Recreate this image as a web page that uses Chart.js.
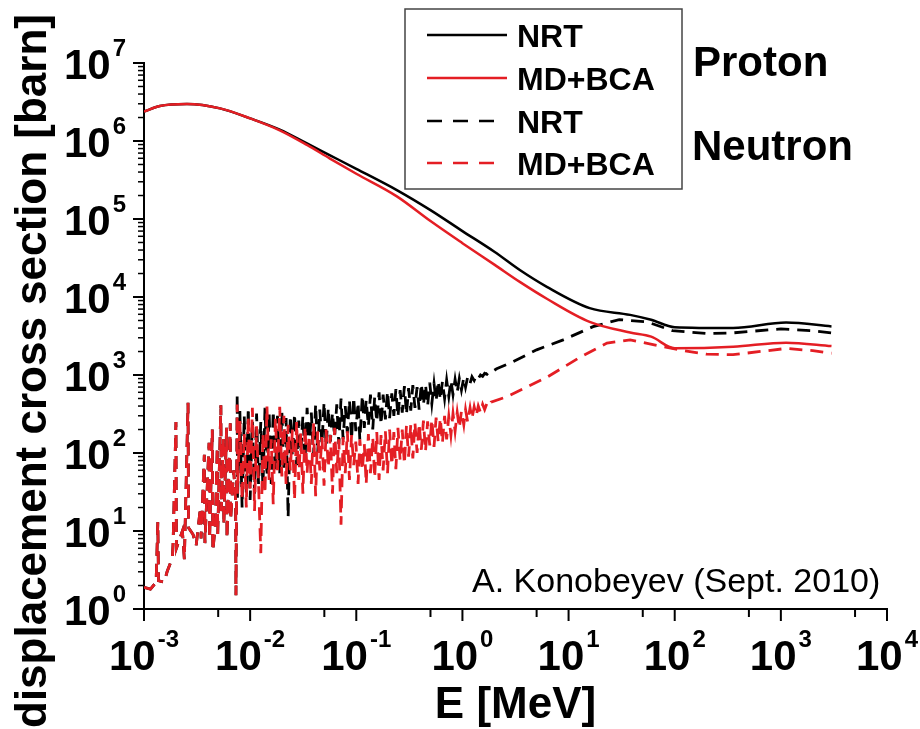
<!DOCTYPE html>
<html>
<head>
<meta charset="utf-8">
<script src="https://cdn.jsdelivr.net/npm/chart.js@4.4.1/dist/chart.umd.min.js"></script>
<style>
  body { margin: 0; background: #fff; }
  #wrap { width: 920px; height: 729px; position: relative; }
</style>
</head>
<body>
<div id="wrap"><canvas id="myChart"></canvas></div>
<script>
// ---- data ----
const energyProton = [1e-3, 1.41e-3, 2.54e-3, 5.2e-3, 1e-2, 1.9e-2, 3.43e-2, 5.6e-2, 0.1, 0.241, 0.5, 1.0, 2.0, 3.5, 6.24, 15.8, 38, 60, 100, 355, 1120, 3000];
const protonNRT   = [2.38e6, 2.81e6, 2.98e6, 2.62e6, 1.95e6, 1.4e6, 9.3e5, 6.6e5, 4.4e5, 2.35e5, 1.3e5, 7.0e4, 3.8e4, 2.2e4, 1.35e4, 7.2e3, 5.9e3, 5.1e3, 4.1e3, 4.0e3, 4.7e3, 4.2e3];
const protonMDBCA = [2.38e6, 2.81e6, 2.98e6, 2.62e6, 1.95e6, 1.37e6, 8.9e5, 6.0e5, 3.8e5, 1.95e5, 9.4e4, 4.9e4, 2.6e4, 1.55e4, 9.5e3, 4.8e3, 3.5e3, 3.1e3, 2.2e3, 2.3e3, 2.6e3, 2.35e3];

// neutron, sparse resonances below 7.5 keV: [E (MeV), sigma (barn)] (both evaluations coincide here)
const neutronLow = [
  [1.00e-3, 1.9], [1.15e-3, 1.8], [1.30e-3, 2.2], [1.35e-3, 13], [1.37e-3, 2.3],
  [1.55e-3, 2.2], [1.65e-3, 3.0], [1.85e-3, 4.5], [1.88e-3, 7], [2.00e-3, 250], [2.02e-3, 6],
  [2.30e-3, 10], [2.40e-3, 4.3], [2.60e-3, 440], [2.63e-3, 11], [2.90e-3, 9], [3.10e-3, 6.5],
  [3.40e-3, 20], [3.45e-3, 8], [3.70e-3, 95], [3.75e-3, 7], [4.10e-3, 135], [4.15e-3, 8],
  [4.40e-3, 200], [4.45e-3, 5.5], [4.70e-3, 12], [4.90e-3, 120], [4.95e-3, 9], [5.30e-3, 410],
  [5.35e-3, 18], [5.60e-3, 160], [5.65e-3, 12], [6.00e-3, 210], [6.05e-3, 8], [6.50e-3, 240],
  [6.55e-3, 14], [7.00e-3, 60], [7.30e-3, 25], [7.35e-3, 1.5]
];
const peakNRT = [[7.55e-3, 560], [7.60e-3, 25]];
const peakMDBCA = [[7.55e-3, 420], [7.60e-3, 30]];

// neutron, dense resonance region 8 keV - 2 MeV
const energyNoise = [
  0.0080, 0.0084, 0.0088, 0.0092, 0.0096, 0.0100, 0.0105, 0.0110, 0.0115, 0.0120,
  0.0126, 0.0132, 0.0138, 0.0144, 0.0151, 0.0158, 0.0165, 0.0173, 0.0181, 0.0190,
  0.0199, 0.0208, 0.0218, 0.0228, 0.0239, 0.0250, 0.0262, 0.0274, 0.0287, 0.0300,
  0.0314, 0.0329, 0.0344, 0.0360, 0.0377, 0.0395, 0.0414, 0.0433, 0.0453, 0.0475,
  0.0497, 0.0520, 0.0545, 0.0570, 0.0597, 0.0625, 0.0655, 0.0685, 0.0718, 0.0751,
  0.0787, 0.0824, 0.0862, 0.0903, 0.0945, 0.0990, 0.104, 0.108, 0.114, 0.119,
  0.124, 0.130, 0.136, 0.143, 0.149, 0.156, 0.164, 0.171, 0.179, 0.188,
  0.197, 0.206, 0.216, 0.226, 0.236, 0.247, 0.259, 0.271, 0.284, 0.297,
  0.311, 0.326, 0.341, 0.357, 0.374, 0.391, 0.410, 0.429, 0.449, 0.470,
  0.492, 0.515, 0.540, 0.565, 0.591, 0.619, 0.648, 0.679, 0.710, 0.744,
  0.779, 0.815, 0.853, 0.893, 0.935, 0.979, 1.03, 1.07, 1.12, 1.18,
  1.23, 1.29, 1.35, 1.41, 1.48, 1.55, 1.62, 1.70, 1.78, 1.86
];
const noiseNRT = [
  350, 20, 300, 30, 380, 25, 260, 30, 320, 40,
  250, 35, 380, 50, 330, 40, 350, 60, 300, 55,
  340, 60, 280, 15, 300, 90, 320, 70, 260, 100,
  300, 80, 380, 110, 330, 90, 420, 100, 360, 130,
  450, 120, 380, 140, 330, 160, 420, 130, 500, 150,
  400, 180, 480, 150, 520, 190, 450, 147, 550, 210,
  480, 220, 560, 200, 520, 250, 600, 230, 560, 270,
  620, 280, 580, 300, 660, 290, 640, 330, 720, 310,
  680, 350, 740, 380, 700, 360, 780, 410, 760, 400,
  800, 430, 780, 460, 840, 480, 820, 500, 860, 530,
  850, 560, 880, 600, 900, 640, 920, 700, 940, 780,
  950, 850, 980, 900, 1000, 960, 1050, 1020, 1100, 1080
];
const noiseMDBCA = [
  260, 25, 180, 20, 300, 35, 380, 18, 220, 40,
  5.2, 180, 30, 400, 45, 150, 22, 280, 60, 390,
  50, 300, 40, 230, 60, 200, 25, 250, 45, 180,
  30, 220, 55, 170, 40, 240, 28, 190, 60, 160,
  38, 200, 65, 170, 30, 210, 55, 150, 12, 160,
  55, 190, 45, 170, 70, 140, 40, 150, 60, 130,
  40, 175, 55, 160, 48, 185, 45, 170, 60, 190,
  55, 200, 70, 185, 62, 210, 80, 200, 72, 225,
  90, 230, 85, 245, 100, 240, 110, 260, 105, 255,
  125, 270, 120, 285, 140, 280, 135, 300, 150, 295,
  170, 320, 190, 330, 210, 345, 230, 360, 250, 380,
  275, 390, 300, 400, 330, 420, 360, 430, 400, 450
];

// neutron, smooth part above 2 MeV
const tailNRT = [[2.1, 1200], [3.0, 1480], [5.0, 2100], [8.9, 2820], [17, 4170], [30, 5130],
  [55, 4790], [95, 3700], [200, 3400], [355, 3470], [1000, 3900], [2000, 3700], [3000, 3470]];
const tailMDBCA = [[2.6, 525], [6.2, 930], [12.9, 1700], [23, 2570], [38, 2820], [68, 2400], [112, 2090],
  [200, 1850], [355, 1820], [1120, 2190], [2000, 2050], [3000, 1900]];

const xTickPowers = [-3, -2, -1, 0, 1, 2, 3, 4];
const yTickPowers = [0, 1, 2, 3, 4, 5, 6, 7];

const RED = '#e41e24';
const FONT = '"Liberation Sans", Arial, sans-serif';

const toPoints = (xs, ys) => xs.map((e, i) => ({ x: e, y: ys[i] }));
const pairPoints = (arr) => arr.map(p => ({ x: p[0], y: p[1] }));
const neutronSeries = (peak, noise, tail) =>
  pairPoints(neutronLow).concat(pairPoints(peak), toPoints(energyNoise, noise), pairPoints(tail));

// draws "10" with a superscript exponent
function drawPower(ctx, p, px, baseY, align) {
  ctx.font = 'bold 42px ' + FONT;
  const w10 = ctx.measureText('10').width;
  ctx.font = 'bold 24px ' + FONT;
  const exp = String(p);
  const wExp = ctx.measureText(exp).width;
  const total = w10 + 2 + wExp;
  const start = align === 'right' ? px - total : px - total / 2;
  ctx.textAlign = 'left';
  ctx.textBaseline = 'alphabetic';
  ctx.font = 'bold 42px ' + FONT;
  ctx.fillText('10', start, baseY);
  ctx.font = 'bold 24px ' + FONT;
  ctx.fillText(exp, start + w10 + 2, baseY - 23);
}

const decorations = {
  id: 'decorations',
  afterDraw(chart) {
    const { ctx, chartArea, scales: { x, y } } = chart;
    ctx.save();
    ctx.strokeStyle = '#000';
    ctx.fillStyle = '#000';
    ctx.lineWidth = 2;

    // y ticks
    yTickPowers.forEach((p, i) => {
      const v = Math.pow(10, p);
      const py = y.getPixelForValue(v);
      ctx.beginPath(); ctx.moveTo(chartArea.left - 11, py); ctx.lineTo(chartArea.left, py); ctx.stroke();
      if (i < yTickPowers.length - 1) {
        for (let m = 2; m <= 9; m++) {
          const my = y.getPixelForValue(m * v);
          ctx.lineWidth = 1.5;
          ctx.beginPath(); ctx.moveTo(chartArea.left - 6, my); ctx.lineTo(chartArea.left, my); ctx.stroke();
          ctx.lineWidth = 2;
        }
      }
      drawPower(ctx, p, 126, py + 16, 'right');
    });

    // x ticks
    xTickPowers.forEach((p, i) => {
      const v = Math.pow(10, p);
      const px = x.getPixelForValue(v);
      ctx.beginPath(); ctx.moveTo(px, chartArea.bottom); ctx.lineTo(px, chartArea.bottom + 12); ctx.stroke();
      if (i < xTickPowers.length - 1) {
        const mx = x.getPixelForValue(5 * v);
        ctx.beginPath(); ctx.moveTo(mx, chartArea.bottom); ctx.lineTo(mx, chartArea.bottom + 8); ctx.stroke();
      }
      drawPower(ctx, p, px, chartArea.bottom + 61, 'center');
    });

    // axis titles
    ctx.font = 'bold 44px ' + FONT;
    ctx.textAlign = 'center';
    ctx.textBaseline = 'alphabetic';
    ctx.fillText('E [MeV]', (chartArea.left + chartArea.right) / 2, 718);
    ctx.save();
    ctx.translate(46, 371);
    ctx.rotate(-Math.PI / 2);
    ctx.fillText('displacement cross section [barn]', 0, 0);
    ctx.restore();

    // legend box
    ctx.lineWidth = 1.5;
    ctx.strokeStyle = '#444';
    ctx.strokeRect(405, 9, 277, 180);
    const rows = [35, 78, 121, 163];
    const items = [chart.data.datasets[2], chart.data.datasets[3], chart.data.datasets[0], chart.data.datasets[1]];
    items.forEach((ds, i) => {
      ctx.strokeStyle = ds.borderColor;
      ctx.lineWidth = 2.5;
      ctx.setLineDash(ds.borderDash ? [15, 11] : []);
      ctx.beginPath();
      ctx.moveTo(427, rows[i]);
      ctx.lineTo(ds.borderDash ? 498 : 507, rows[i]);
      ctx.stroke();
      ctx.setLineDash([]);
      ctx.fillStyle = '#000';
      ctx.font = 'bold 32px ' + FONT;
      ctx.textAlign = 'left';
      ctx.fillText(ds.label, 517, rows[i] + 12);
    });

    ctx.font = 'bold 42px ' + FONT;
    ctx.fillText('Proton', 693, 76);
    ctx.fillText('Neutron', 692, 160);

    ctx.font = '34px ' + FONT;
    ctx.fillText('A. Konobeyev (Sept. 2010)', 472, 592);
    ctx.restore();
  }
};

const ctx = document.getElementById('myChart');

var myChart = new Chart(ctx, {
  type: 'line',
  data: {
    datasets: [
      {
        label: 'NRT',
        data: neutronSeries(peakNRT, noiseNRT, tailNRT),
        borderColor: '#000',
        borderWidth: 2.8,
        borderDash: [13, 8],
        tension: 0,
        order: 3
      },
      {
        label: 'MD+BCA',
        data: neutronSeries(peakMDBCA, noiseMDBCA, tailMDBCA),
        borderColor: RED,
        borderWidth: 2.8,
        borderDash: [13, 8],
        tension: 0,
        order: 2
      },
      {
        label: 'NRT',
        data: toPoints(energyProton, protonNRT),
        borderColor: '#000',
        borderWidth: 2.5,
        cubicInterpolationMode: 'monotone',
        order: 1
      },
      {
        label: 'MD+BCA',
        data: toPoints(energyProton, protonMDBCA),
        borderColor: RED,
        borderWidth: 2.5,
        cubicInterpolationMode: 'monotone',
        order: 0
      }
    ]
  },
  options: {
    responsive: true,
    maintainAspectRatio: false,
    animation: false,
    layout: { padding: { left: 144, right: 33, top: 63, bottom: 120 } },
    elements: { point: { radius: 0 } },
    plugins: { legend: { display: false }, tooltip: { enabled: false } },
    scales: {
      x: {
        type: 'logarithmic',
        min: 1e-3,
        max: 1e4,
        ticks: { display: false },
        grid: { display: true, drawOnChartArea: false, drawTicks: false },
        border: { display: true, color: '#000', width: 2 },
        afterFit: (scale) => { scale.height = 0; }
      },
      y: {
        type: 'logarithmic',
        min: 1,
        max: 1e7,
        ticks: { display: false },
        grid: { display: true, drawOnChartArea: false, drawTicks: false },
        border: { display: true, color: '#000', width: 2 },
        afterFit: (scale) => { scale.width = 0; }
      }
    }
  },
  plugins: [decorations]
});
</script>
</body>
</html>
